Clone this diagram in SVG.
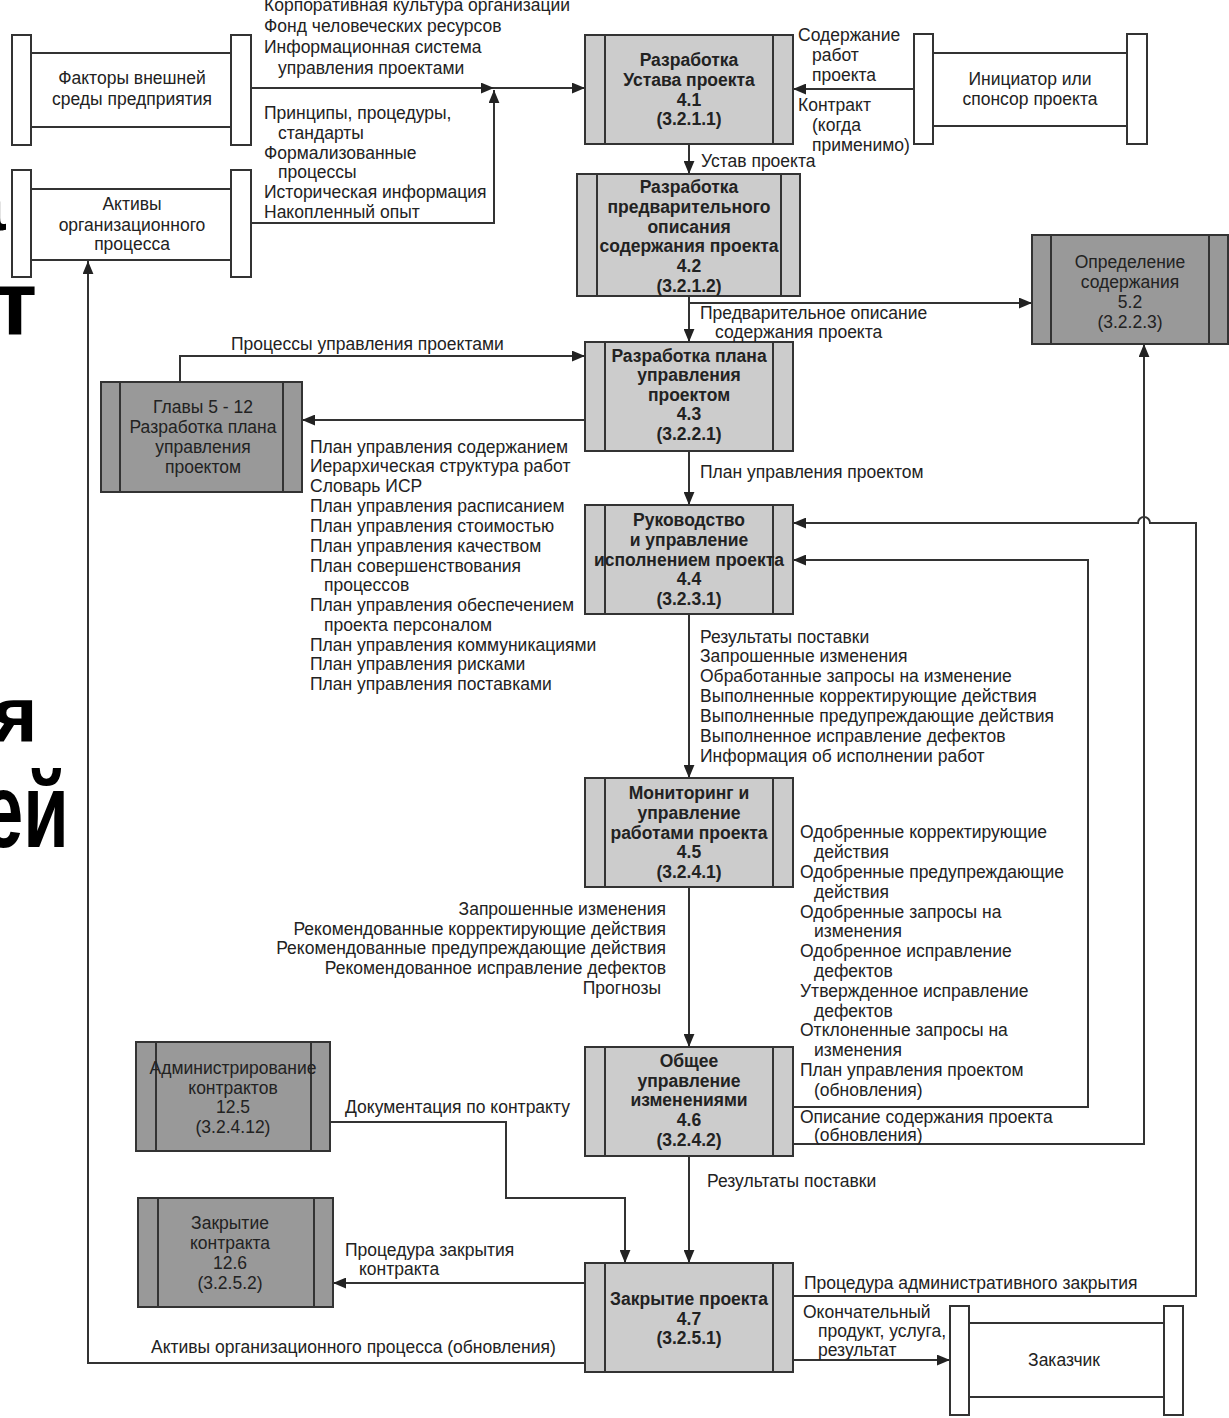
<svg xmlns="http://www.w3.org/2000/svg" width="1229" height="1418" viewBox="0 0 1229 1418">
<defs>
<style>
text{font-family:"Liberation Sans",Arial,sans-serif;font-size:17.5px;fill:#222}
.b{font-weight:bold}
.c{text-anchor:middle}
.e{text-anchor:end}
.big{font-weight:bold;font-size:100px;fill:#000}
.proc{fill:#cccccc;stroke:#333;stroke-width:2}
.dark{fill:#999999;stroke:#333;stroke-width:2}
.ext{fill:#fff;stroke:#333;stroke-width:2}
.in{stroke:#333;stroke-width:2;fill:none}
.con path{fill:none;stroke:#333;stroke-width:2}
</style>
<marker id="ar" viewBox="0 0 12 10" markerWidth="13" markerHeight="11" refX="12" refY="5" orient="auto" markerUnits="userSpaceOnUse"><path d="M0,0 L12,5 L0,10 z" fill="#222"/></marker>
</defs>
<rect width="1229" height="1418" fill="#fff"/>

<g id="slide-fragments">
<text class="big" x="-39" y="230" style="font-size:80px">а</text>
<text class="big" x="-7" y="335" style="font-size:90px">т</text>
<text class="big" x="-8" y="742" style="font-size:78px">я</text>
<text class="big" transform="translate(-18,847) scale(0.7,1)" x="0" y="0" style="font-size:106px">ей</text>
</g>

<g class="con" id="connectors">
<path d="M251,88 H494" marker-end="url(#ar)"/>
<path d="M494,88 H585" marker-end="url(#ar)"/>
<path d="M251,223 H494 V90" marker-end="url(#ar)"/>
<path d="M914,89 H793" marker-end="url(#ar)"/>
<path d="M689,144 V174" marker-end="url(#ar)"/>
<path d="M689,296 V342" marker-end="url(#ar)"/>
<path d="M689,303 H1032" marker-end="url(#ar)"/>
<path d="M585,420 H302" marker-end="url(#ar)"/>
<path d="M180,382 V356 H585" marker-end="url(#ar)"/>
<path d="M689,451 V505" marker-end="url(#ar)"/>
<path d="M689,614 V778" marker-end="url(#ar)"/>
<path d="M689,887 V1047" marker-end="url(#ar)"/>
<path d="M689,1156 V1263" marker-end="url(#ar)"/>
<path d="M793,1107 H1088 V560 H793" marker-end="url(#ar)"/>
<path d="M793,1144 H1144 V344" marker-end="url(#ar)"/>
<path d="M793,1296 H1196 V523 H1150 a6,6 0 0 0 -12,0 H793" marker-end="url(#ar)"/>
<path d="M330,1122 H506 V1198 H625 V1263" marker-end="url(#ar)"/>
<path d="M585,1283 H333" marker-end="url(#ar)"/>
<path d="M585,1363 H88 V261" marker-end="url(#ar)"/>
<path d="M793,1360 H950" marker-end="url(#ar)"/>
</g>

<g id="n-factors">
<line class="in" x1="31" y1="53" x2="231" y2="53"/><line class="in" x1="31" y1="127" x2="231" y2="127"/>
<rect class="ext" x="12" y="35" width="19" height="110"/><rect class="ext" x="231" y="35" width="20" height="110"/>
<text class="c" x="132" y="84">Факторы внешней</text>
<text class="c" x="132" y="105">среды предприятия</text>
</g>

<g id="n-assets">
<line class="in" x1="31" y1="189" x2="231" y2="189"/><line class="in" x1="31" y1="260" x2="231" y2="260"/>
<rect class="ext" x="12" y="170" width="19" height="107"/><rect class="ext" x="231" y="170" width="20" height="107"/>
<text class="c" x="132" y="210">Активы</text>
<text class="c" x="132" y="231">организационного</text>
<text class="c" x="132" y="250">процесса</text>
</g>

<g id="n-sponsor">
<line class="in" x1="933" y1="53" x2="1127" y2="53"/><line class="in" x1="933" y1="126" x2="1127" y2="126"/>
<rect class="ext" x="914" y="34" width="19" height="110"/><rect class="ext" x="1127" y="34" width="20" height="110"/>
<text class="c" x="1030" y="85">Инициатор или</text>
<text class="c" x="1030" y="105">спонсор проекта</text>
</g>

<g id="n-customer">
<line class="in" x1="969" y1="1323" x2="1164" y2="1323"/><line class="in" x1="969" y1="1397" x2="1164" y2="1397"/>
<rect class="ext" x="950" y="1306" width="19" height="109"/><rect class="ext" x="1164" y="1306" width="19" height="109"/>
<text class="c" x="1064" y="1366">Заказчик</text>
</g>

<g id="n-4-1">
<rect class="proc" x="585" y="35" width="208" height="109"/>
<line class="in" x1="605" y1="35" x2="605" y2="144"/><line class="in" x1="773" y1="35" x2="773" y2="144"/>
<text class="b c" x="689" y="66">Разработка</text>
<text class="b c" x="689" y="86">Устава проекта</text>
<text class="b c" x="689" y="106">4.1</text>
<text class="b c" x="689" y="125">(3.2.1.1)</text>
</g>

<g id="n-4-2">
<rect class="proc" x="577" y="174" width="223" height="122"/>
<line class="in" x1="597" y1="174" x2="597" y2="296"/><line class="in" x1="781" y1="174" x2="781" y2="296"/>
<text class="b c" x="689" y="193">Разработка</text>
<text class="b c" x="689" y="213">предварительного</text>
<text class="b c" x="689" y="233">описания</text>
<text class="b c" x="689" y="252">содержания проекта</text>
<text class="b c" x="689" y="272">4.2</text>
<text class="b c" x="689" y="292">(3.2.1.2)</text>
</g>

<g id="n-5-2">
<rect class="dark" x="1032" y="235" width="196" height="109"/>
<line class="in" x1="1051" y1="235" x2="1051" y2="344"/><line class="in" x1="1209" y1="235" x2="1209" y2="344"/>
<text class="c" x="1130" y="268">Определение</text>
<text class="c" x="1130" y="288">содержания</text>
<text class="c" x="1130" y="308">5.2</text>
<text class="c" x="1130" y="328">(3.2.2.3)</text>
</g>

<g id="n-4-3">
<rect class="proc" x="585" y="342" width="208" height="109"/>
<line class="in" x1="605" y1="342" x2="605" y2="451"/><line class="in" x1="773" y1="342" x2="773" y2="451"/>
<text class="b c" x="689" y="362">Разработка плана</text>
<text class="b c" x="689" y="381">управления</text>
<text class="b c" x="689" y="401">проектом</text>
<text class="b c" x="689" y="420">4.3</text>
<text class="b c" x="689" y="440">(3.2.2.1)</text>
</g>

<g id="n-ch5-12">
<rect class="dark" x="101" y="382" width="201" height="110"/>
<line class="in" x1="120" y1="382" x2="120" y2="492"/><line class="in" x1="283" y1="382" x2="283" y2="492"/>
<text class="c" x="203" y="413">Главы 5 - 12</text>
<text class="c" x="203" y="433">Разработка плана</text>
<text class="c" x="203" y="453">управления</text>
<text class="c" x="203" y="473">проектом</text>
</g>

<g id="n-4-4">
<rect class="proc" x="585" y="505" width="208" height="109"/>
<line class="in" x1="605" y1="505" x2="605" y2="614"/><line class="in" x1="773" y1="505" x2="773" y2="614"/>
<text class="b c" x="689" y="526">Руководство</text>
<text class="b c" x="689" y="546">и управление</text>
<text class="b c" x="689" y="566">исполнением проекта</text>
<text class="b c" x="689" y="585">4.4</text>
<text class="b c" x="689" y="605">(3.2.3.1)</text>
</g>

<g id="n-4-5">
<rect class="proc" x="585" y="778" width="208" height="109"/>
<line class="in" x1="605" y1="778" x2="605" y2="887"/><line class="in" x1="773" y1="778" x2="773" y2="887"/>
<text class="b c" x="689" y="799">Мониторинг и</text>
<text class="b c" x="689" y="819">управление</text>
<text class="b c" x="689" y="839">работами проекта</text>
<text class="b c" x="689" y="858">4.5</text>
<text class="b c" x="689" y="878">(3.2.4.1)</text>
</g>

<g id="n-4-6">
<rect class="proc" x="585" y="1047" width="208" height="109"/>
<line class="in" x1="605" y1="1047" x2="605" y2="1156"/><line class="in" x1="773" y1="1047" x2="773" y2="1156"/>
<text class="b c" x="689" y="1067">Общее</text>
<text class="b c" x="689" y="1087">управление</text>
<text class="b c" x="689" y="1106">изменениями</text>
<text class="b c" x="689" y="1126">4.6</text>
<text class="b c" x="689" y="1146">(3.2.4.2)</text>
</g>

<g id="n-12-5">
<rect class="dark" x="136" y="1042" width="194" height="109"/>
<line class="in" x1="156" y1="1042" x2="156" y2="1151"/><line class="in" x1="311" y1="1042" x2="311" y2="1151"/>
<text class="c" x="233" y="1074">Администрирование</text>
<text class="c" x="233" y="1094">контрактов</text>
<text class="c" x="233" y="1113">12.5</text>
<text class="c" x="233" y="1133">(3.2.4.12)</text>
</g>

<g id="n-12-6">
<rect class="dark" x="138" y="1198" width="195" height="109"/>
<line class="in" x1="158" y1="1198" x2="158" y2="1307"/><line class="in" x1="314" y1="1198" x2="314" y2="1307"/>
<text class="c" x="230" y="1229">Закрытие</text>
<text class="c" x="230" y="1249">контракта</text>
<text class="c" x="230" y="1269">12.6</text>
<text class="c" x="230" y="1289">(3.2.5.2)</text>
</g>

<g id="n-4-7">
<rect class="proc" x="585" y="1263" width="208" height="109"/>
<line class="in" x1="605" y1="1263" x2="605" y2="1372"/><line class="in" x1="773" y1="1263" x2="773" y2="1372"/>
<text class="b c" x="689" y="1305">Закрытие проекта</text>
<text class="b c" x="689" y="1325">4.7</text>
<text class="b c" x="689" y="1344">(3.2.5.1)</text>
</g>

<g id="labels">
<text x="264" y="11">Корпоративная культура организации</text>
<text x="264" y="32">Фонд человеческих ресурсов</text>
<text x="264" y="53">Информационная система</text>
<text x="278" y="74">управления проектами</text>
<text x="264" y="119">Принципы, процедуры,</text>
<text x="278" y="139">стандарты</text>
<text x="264" y="159">Формализованные</text>
<text x="278" y="178">процессы</text>
<text x="264" y="198">Историческая информация</text>
<text x="264" y="218">Накопленный опыт</text>

<text x="798" y="41">Содержание</text>
<text x="812" y="61">работ</text>
<text x="812" y="81">проекта</text>
<text x="798" y="111">Контракт</text>
<text x="812" y="131">(когда</text>
<text x="812" y="151">применимо)</text>

<text x="701" y="167">Устав проекта</text>
<text x="700" y="319">Предварительное описание</text>
<text x="715" y="338">содержания проекта</text>
<text x="231" y="350">Процессы управления проектами</text>

<text x="310" y="453">План управления содержанием</text>
<text x="310" y="472">Иерархическая структура работ</text>
<text x="310" y="492">Словарь ИСР</text>
<text x="310" y="512">План управления расписанием</text>
<text x="310" y="532">План управления стоимостью</text>
<text x="310" y="552">План управления качеством</text>
<text x="310" y="572">План совершенствования</text>
<text x="324" y="591">процессов</text>
<text x="310" y="611">План управления обеспечением</text>
<text x="324" y="631">проекта персоналом</text>
<text x="310" y="651">План управления коммуникациями</text>
<text x="310" y="670">План управления рисками</text>
<text x="310" y="690">План управления поставками</text>

<text x="700" y="478">План управления проектом</text>

<text x="700" y="643">Результаты поставки</text>
<text x="700" y="662">Запрошенные изменения</text>
<text x="700" y="682">Обработанные запросы на изменение</text>
<text x="700" y="702">Выполненные корректирующие действия</text>
<text x="700" y="722">Выполненные предупреждающие действия</text>
<text x="700" y="742">Выполненное исправление дефектов</text>
<text x="700" y="762">Информация об исполнении работ</text>

<text class="e" x="666" y="915">Запрошенные изменения</text>
<text class="e" x="666" y="935">Рекомендованные корректирующие действия</text>
<text class="e" x="666" y="954">Рекомендованные предупреждающие действия</text>
<text class="e" x="666" y="974">Рекомендованное исправление дефектов</text>
<text class="e" x="661" y="994">Прогнозы</text>

<text x="800" y="838">Одобренные корректирующие</text>
<text x="814" y="858">действия</text>
<text x="800" y="878">Одобренные предупреждающие</text>
<text x="814" y="898">действия</text>
<text x="800" y="918">Одобренные запросы на</text>
<text x="814" y="937">изменения</text>
<text x="800" y="957">Одобренное исправление</text>
<text x="814" y="977">дефектов</text>
<text x="800" y="997">Утвержденное исправление</text>
<text x="814" y="1017">дефектов</text>
<text x="800" y="1036">Отклоненные запросы на</text>
<text x="814" y="1056">изменения</text>
<text x="800" y="1076">План управления проектом</text>
<text x="814" y="1096">(обновления)</text>
<text x="800" y="1123">Описание содержания проекта</text>
<text x="814" y="1141">(обновления)</text>

<text x="345" y="1113">Документация по контракту</text>
<text x="707" y="1187">Результаты поставки</text>
<text x="345" y="1256">Процедура закрытия</text>
<text x="359" y="1275">контракта</text>
<text x="804" y="1289">Процедура административного закрытия</text>
<text x="803" y="1318">Окончательный</text>
<text x="818" y="1337">продукт, услуга,</text>
<text x="818" y="1356">результат</text>
<text x="151" y="1353">Активы организационного процесса (обновления)</text>
</g>
</svg>
